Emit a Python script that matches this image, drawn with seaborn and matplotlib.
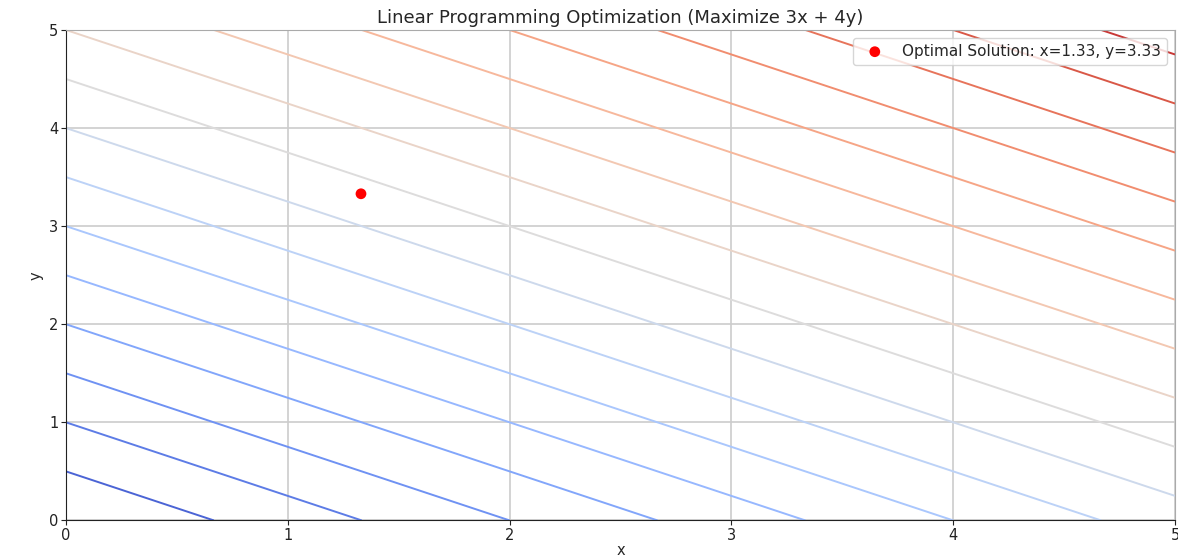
import numpy as np
import matplotlib
matplotlib.use("Agg")
import matplotlib.pyplot as plt
import seaborn as sns

# Data
x_range = [0, 5]
y_range = [0, 5]
obj_coef = [3, 4]
opt_x = [1.33]
opt_y = [3.33]
opt_label = "Optimal Solution: x=1.33, y=3.33"

sns.set_style("ticks")
plt.rcParams['font.family'] = ['DejaVu Sans']

fig = plt.figure(figsize=(11.78, 5.59), dpi=100)
ax = fig.add_axes([0.056, 0.069, 0.9415, 0.8774])

xs = np.linspace(x_range[0], x_range[1], 200)
ys = np.linspace(y_range[0], y_range[1], 200)
X, Y = np.meshgrid(xs, ys)
Z = obj_coef[0] * X + obj_coef[1] * Y
ax.contour(X, Y, Z, levels=20, cmap="coolwarm", linewidths=1.4)

sns.scatterplot(x=opt_x, y=opt_y, color="red", s=60, edgecolor="none",
                label=opt_label, ax=ax, zorder=5)

ax.set_xlim(x_range)
ax.set_ylim(y_range)
ax.set_xticks([0, 1, 2, 3, 4, 5])
ax.set_yticks([0, 1, 2, 3, 4, 5])
ax.grid(True, color="#cccccc", linewidth=1.2)
ax.set_axisbelow(True)
ax.tick_params(labelsize=10.5, colors="#222222", pad=2)
for s in ["top", "right"]:
    ax.spines[s].set_color("#aaaaaa")
for s in ["left", "bottom"]:
    ax.spines[s].set_color("#222222")
ax.set_title("Linear Programming Optimization (Maximize 3x + 4y)", fontsize=13, pad=5)
ax.set_xlabel("x", fontsize=10.5, labelpad=0)
ax.set_ylabel("y", fontsize=10.5)
ax.legend(loc="upper right", fontsize=11, frameon=True)

fig.savefig("out.png", dpi=100)
